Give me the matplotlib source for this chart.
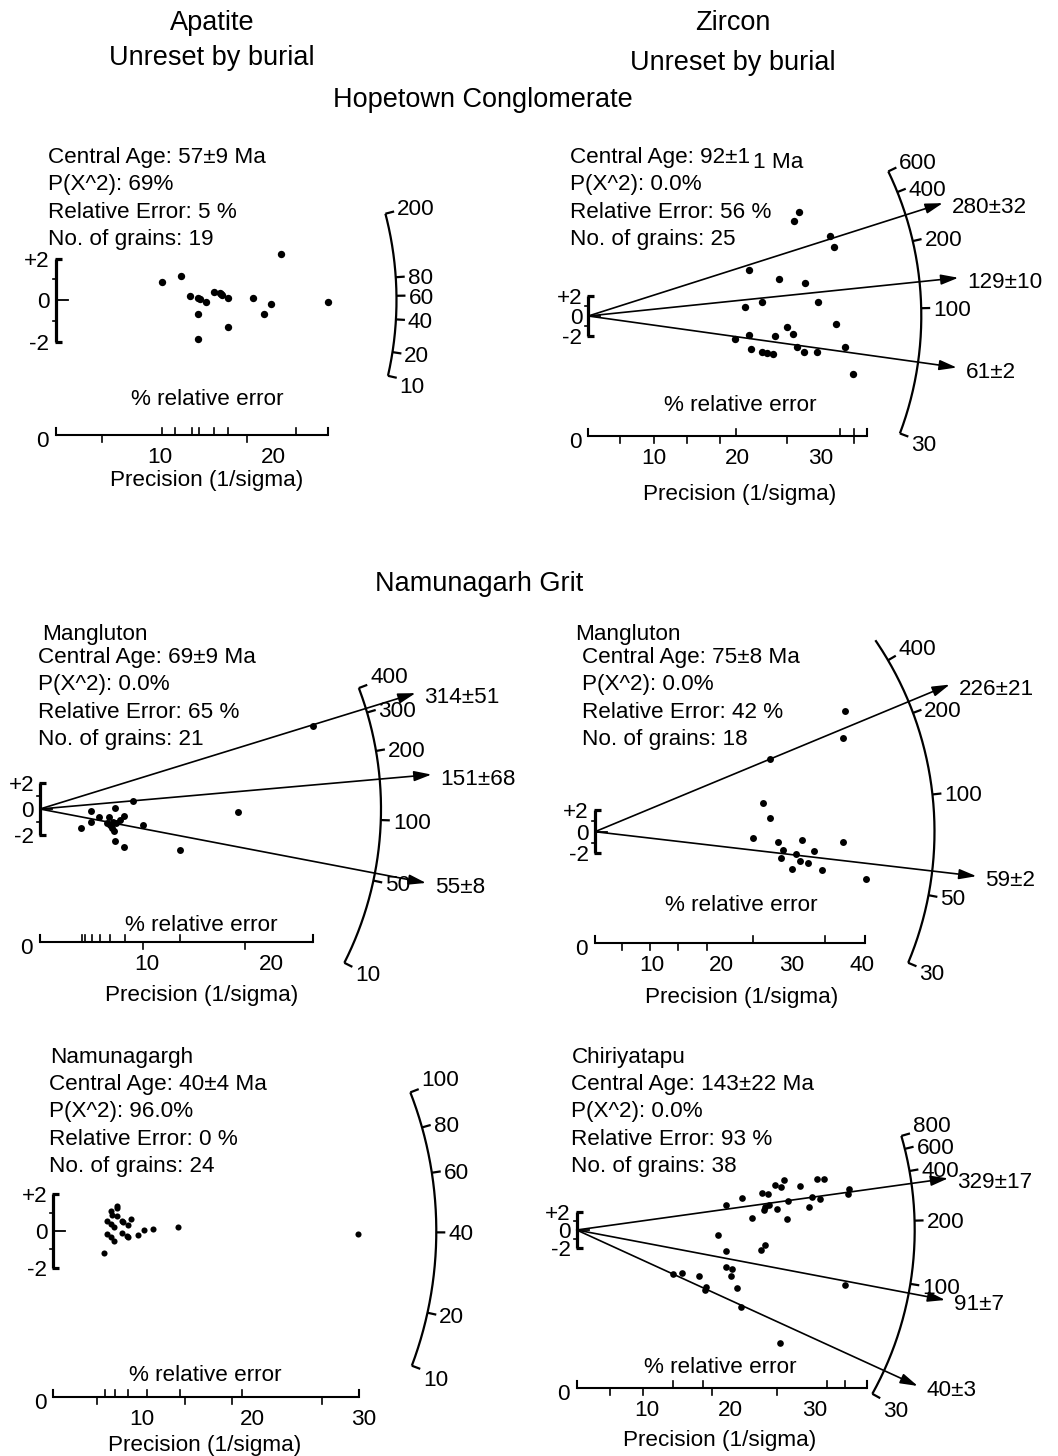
import numpy as np
import matplotlib
matplotlib.use('Agg')
import matplotlib.pyplot as plt

plt.rcParams['font.family'] = ['Liberation Sans', 'DejaVu Sans']

W, H = 1058, 1456
FS = 16.2
FS_HEAD = 19.5

# ======================= DATA =======================
# --- Hopetown Conglomerate, apatite ---
hop_ap_prec = [10.15, 11.86, 12.65, 13.39, 13.39, 13.39, 14.07, 14.81, 15.31, 15.51,
               16.04, 16.04, 18.26, 19.23, 19.80, 20.68, 24.84, 13.5, 15.4]
hop_ap_z = [0.88, 1.16, 0.21, 0.08, -0.69, -1.88, -0.11, 0.40, 0.32, 0.24,
            0.11, -1.32, 0.11, -0.66, -0.21, 2.20, -0.11, 0.05, 0.28]
hop_ap_scale = [10, 20, 40, 60, 80, 200]
hop_ap_line_age, hop_ap_line_err = [], []
hop_ap_prec_labels = [10, 20]
hop_ap_ticks_up = [10.15, 11.33, 12.86, 13.45, 14.81, 16.04, 22.0, 24.84]
hop_ap_ticks_down = [4.84, 17.67]
hop_ap_stats = ["Central Age: 57±9 Ma", "P(X^2): 69%", "Relative Error: 5 %", "No. of grains: 19"]

# --- Hopetown Conglomerate, zircon ---
hop_zr_prec = [27.39, 26.75, 31.07, 31.55, 21.39, 24.99, 28.07, 20.91, 22.88, 29.67,
               31.79, 25.88, 26.60, 21.32, 24.48, 19.68, 21.56, 22.88, 23.48, 24.20,
               27.08, 27.95, 29.55, 32.87, 33.80]
hop_zr_z = [10.23, 9.34, 7.84, 6.74, 4.51, 3.63, 3.20, 0.85, 1.40, 1.40,
            -0.81, -1.05, -1.80, -1.86, -1.96, -2.28, -3.27, -3.50, -3.60, -3.73,
            -3.01, -3.50, -3.50, -3.07, -5.69]
hop_zr_scale = [30, 100, 200, 400, 600]
hop_zr_line_age = [280, 129, 61]
hop_zr_line_err = [32, 10, 2]
hop_zr_prec_labels = [10, 20, 30]
hop_zr_ticks_up = [19.8, 32.3, 33.9]
hop_zr_ticks_down = [5.9, 9.9, 13.9, 17.9, 25.9, 33.9]
hop_zr_stats = ["Central Age: 92±1", "P(X^2): 0.0%", "Relative Error: 56 %", "No. of grains: 25"]
hop_zr_stats_tail = "1 Ma"

# --- Namunagarh Grit, Mangluton, apatite ---
man_ap_prec = [23.29, 17.32, 8.90, 7.43, 9.66, 8.18, 12.65, 8.18, 7.43, 4.68,
               5.49, 5.49, 6.15, 6.98, 6.77, 7.30, 7.51, 7.17, 7.38, 7.83, 7.03]
man_ap_z = [6.31, -0.25, 0.63, 0.10, -1.21, -0.51, -3.11, -2.86, -2.40, -1.46,
            -0.15, -0.96, -0.58, -0.58, -1.04, -0.96, -1.08, -1.46, -1.64, -0.83, -1.21]
man_ap_scale = [10, 50, 100, 200, 300, 400]
man_ap_line_age = [314, 151, 55]
man_ap_line_err = [51, 68, 8]
man_ap_prec_labels = [10, 20]
man_ap_ticks_up = [4.76, 5.03, 5.57, 6.23, 7.03, 8.23, 12.65, 23.34]
man_ap_ticks_down = [9.70, 17.86]
man_ap_stats = ["Central Age: 69±9 Ma", "P(X^2): 0.0%", "Relative Error: 65 %", "No. of grains: 21"]

# --- Namunagarh Grit, Mangluton, zircon ---
man_zr_prec = [37.59, 37.26, 26.89, 25.94, 26.89, 24.42, 28.07, 31.41, 37.26, 28.70,
               33.17, 30.60, 28.46, 31.17, 32.35, 29.99, 34.35, 40.58]
man_zr_z = [11.20, 8.65, 6.70, 2.63, 1.30, -0.61, -0.93, -0.77, -0.93, -1.69,
            -1.76, -2.09, -2.46, -2.71, -2.93, -3.48, -3.55, -4.41]
man_zr_scale = [30, 50, 100, 200, 400]
man_zr_line_age = [226, 59]
man_zr_line_err = [21, 2]
man_zr_prec_labels = [10, 20, 30, 40]
man_zr_ticks_up = [24.5, 34.7, 40.4]
man_zr_ticks_down = [5.73, 9.77, 13.8, 17.86]
man_zr_stats = ["Central Age: 75±8 Ma", "P(X^2): 0.0%", "Relative Error: 42 %", "No. of grains: 18"]

# --- Namunagarh Grit, Namunagargh, apatite ---
nam_ap_prec = [7.80, 7.23, 7.80, 6.90, 7.20, 7.50, 8.25, 9.03, 8.74, 6.90,
               7.20, 7.50, 8.25, 8.74, 9.64, 10.23, 11.05, 13.25, 6.62, 29.55,
               7.75, 8.30, 8.70, 7.30]
nam_ap_z = [1.38, 1.09, 0.82, 0.56, 0.38, 0.20, 0.55, 0.66, 0.33, -0.16,
            -0.34, -0.55, -0.09, -0.31, -0.22, 0.05, 0.11, 0.23, -1.22, -0.18,
            1.25, 0.50, -0.28, 0.90]
nam_ap_scale = [10, 20, 40, 60, 80, 100]
nam_ap_line_age, nam_ap_line_err = [], []
nam_ap_prec_labels = [10, 20, 30]
nam_ap_ticks_up = [6.69, 7.59, 8.79, 10.45, 13.45, 19.03, 29.64]
nam_ap_ticks_down = [5.94, 13.9, 18.12, 26.25]
nam_ap_stats = ["Central Age: 40±4 Ma", "P(X^2): 96.0%", "Relative Error: 0 %", "No. of grains: 24"]

# --- Namunagarh Grit, Chiriyatapu, zircon ---
chi_zr_prec = [19.45, 21.39, 23.69, 24.48, 25.27, 25.95, 26.38, 28.24, 30.30, 31.13,
               34.10, 33.98, 29.63, 30.62, 26.78, 24.60, 23.97, 24.09, 25.55, 29.35,
               22.58, 26.66, 18.54, 24.09, 23.61, 19.45, 19.45, 20.13, 20.01, 13.19,
               14.19, 16.25, 17.04, 16.96, 20.72, 21.24, 33.59, 25.87]
chi_zr_z = [2.75, 3.48, 4.10, 3.96, 4.95, 4.76, 5.49, 4.87, 5.60, 5.60,
            4.47, 3.96, 3.59, 3.37, 3.22, 2.75, 2.20, 2.49, 2.31, 2.56,
            1.29, 1.18, -0.55, -1.65, -2.20, -2.27, -4.03, -4.32, -5.05, -4.84,
            -4.69, -5.05, -6.23, -6.59, -6.41, -8.43, -6.08, -12.45]
chi_zr_scale = [30, 100, 200, 400, 600, 800]
chi_zr_line_age = [329, 91, 40]
chi_zr_line_err = [17, 7, 3]
chi_zr_prec_labels = [10, 20, 30]
chi_zr_ticks_up = [13.2, 16.76, 31.4, 33.6]
chi_zr_ticks_down = [5.68, 9.63, 17.75, 25.48]
chi_zr_stats = ["Central Age: 143±22 Ma", "P(X^2): 0.0%", "Relative Error: 93 %", "No. of grains: 38"]

headers = [("Apatite", 212, 20), ("Unreset by burial", 212, 55),
           ("Zircon", 733, 20), ("Unreset by burial", 733, 60),
           ("Hopetown Conglomerate", 483, 97), ("Namunagarh Grit", 479, 581)]

# ======================= LAYOUT (pixels) =======================
panels = [
    dict(prec=hop_ap_prec, z=hop_ap_z, scale=hop_ap_scale, lage=hop_ap_line_age, lerr=hop_ap_line_err,
         plab=hop_ap_prec_labels, tup=hop_ap_ticks_up, tdn=hop_ap_ticks_down, stats=hop_ap_stats, name=None,
         ox=55.5, oy=300, zero=47, sx=11.3, sy=20.75, axy=435, pend=24.84,
         R=341, c=0.0045, K=0.89, tc=56, ext=0, LR=380, ms=5.3, endsh=(4, 6),
         sxy=(48.3, 155), nxy=None, rel=(207, 397), pre=(207, 478.3)),
    dict(prec=hop_zr_prec, z=hop_zr_z, scale=hop_zr_scale, lage=hop_zr_line_age, lerr=hop_zr_line_err,
         plab=hop_zr_prec_labels, tup=hop_zr_ticks_up, tdn=hop_zr_ticks_down, stats=hop_zr_stats, name=None,
         ox=588.3, oy=316, zero=571, sx=8.335, sy=10.2, axy=436, pend=35.5,
         R=333, c=0.019, K=1.35, tc=93, ext=0, LR=372, ms=5.3, endsh=(5, 5),
         sxy=(570, 155), nxy=None, rel=(740, 403.3), pre=(740, 491.7)),
    dict(prec=man_ap_prec, z=man_ap_z, scale=man_ap_scale, lage=man_ap_line_age, lerr=man_ap_line_err,
         plab=man_ap_prec_labels, tup=man_ap_ticks_up, tdn=man_ap_ticks_down, stats=man_ap_stats, name="Mangluton",
         ox=40, oy=809, zero=22.3, sx=12.47, sy=13.2, axy=941.7, pend=23.34,
         R=341, c=0.0048, K=1.212, tc=112, ext=0, LR=393, ms=5.0, endsh=(9, 5),
         sxy=(38.3, 655), nxy=(41.7, 631.7), rel=(201.7, 923.3), pre=(201.7, 993.3)),
    dict(prec=man_zr_prec, z=man_zr_z, scale=man_zr_scale, lage=man_zr_line_age, lerr=man_zr_line_err,
         plab=man_zr_prec_labels, tup=man_zr_ticks_up, tdn=man_zr_ticks_down, stats=man_zr_stats, name="Mangluton",
         ox=595, oy=831.7, zero=581.5, sx=7.01, sy=10.8, axy=943.3, pend=40.4,
         R=339.5, c=0.023, K=1.795, tc=77, ext=4, LR=384, ms=5.0, endsh=(7, 5),
         sxy=(581.7, 655), nxy=(575, 631.7), rel=(741.7, 903.3), pre=(741.7, 995)),
    dict(prec=nam_ap_prec, z=nam_ap_z, scale=nam_ap_scale, lage=nam_ap_line_age, lerr=nam_ap_line_err,
         plab=nam_ap_prec_labels, tup=nam_ap_ticks_up, tdn=nam_ap_ticks_down, stats=nam_ap_stats, name="Namunagargh",
         ox=53.3, oy=1231, zero=30.9, sx=11.08, sy=18.3, axy=1396.7, pend=29.64,
         R=383, c=0.0025, K=2.49, tc=40.4, ext=0, LR=420, ms=4.4, endsh=(10, 8),
         sxy=(49.3, 1081.7), nxy=(50, 1055), rel=(205, 1373.3), pre=(205, 1443.3)),
    dict(prec=chi_zr_prec, z=chi_zr_z, scale=chi_zr_scale, lage=chi_zr_line_age, lerr=chi_zr_line_err,
         plab=chi_zr_prec_labels, tup=chi_zr_ticks_up, tdn=chi_zr_ticks_down, stats=chi_zr_stats, name="Chiriyatapu",
         ox=576.7, oy=1230, zero=562.2, sx=8.42, sy=9.1, axy=1388.3, pend=36.2,
         R=338, c=0.027, K=1.348, tc=179, ext=0, LR=375, ms=4.8, endsh=(9, 9),
         sxy=(571, 1081.7), nxy=(571.7, 1055), rel=(720, 1365), pre=(720, 1438.3)),
]

fig = plt.figure(figsize=(W / 100, H / 100), dpi=100)
fig.patch.set_facecolor('white')

PT2PX = 100 / 72.0


def capoff(size):
    return 0.358 * size * PT2PX


def ftext(x, y, s, ha='left', size=FS):
    """figure text; (x, y) pixel position of cap-height centre, y from top."""
    fig.text(x / W, 1 - (y + capoff(size)) / H, s, ha=ha, va='baseline', fontsize=size, color='k')


for txt, x, y in headers:
    ftext(x, y, txt, ha='center', size=FS_HEAD)


def draw_panel(P):
    ax = fig.add_axes([0, 0, 1, 1])
    ax.set_xlim((0 - P['zero']) / P['sx'], (W - P['zero']) / P['sx'])
    ax.set_ylim((P['oy'] - H) / P['sy'], P['oy'] / P['sy'])
    ax.axis('off')
    ax.patch.set_alpha(0)
    sx, sy = P['sx'], P['sy']
    xo = (P['ox'] - P['zero']) / sx
    co = capoff(FS)

    def D(dx, dy):
        return xo + np.asarray(dx) / sx, np.asarray(dy) / sy

    def u(t):
        return np.arctan(np.sqrt(P['c'] * np.asarray(t, float)))

    def phi(t):
        return np.arctan(P['K'] * (u(t) - u(P['tc'])))

    # ---- age arc ----
    R = P['R']
    tmin, tmax = min(P['scale']), max(P['scale'])
    a0 = phi(tmin)
    a1 = phi(tmax) + np.radians(P['ext'])
    th = np.linspace(a0, a1, 300)
    ax.plot(*D(R * np.cos(th), R * np.sin(th)), color='k', lw=1.6, solid_capstyle='butt')
    for t in P['scale']:
        a = phi(t)
        ax.plot(*D([R * np.cos(a), (R + 9) * np.cos(a)], [R * np.sin(a), (R + 9) * np.sin(a)]),
                color='k', lw=1.6, solid_capstyle='butt')
        shift = P['endsh'][0] if t == tmax else (-P['endsh'][1] if t == tmin else 0)
        lx, ly = D((R + 12) * np.cos(a), (R + 12) * np.sin(a) - co + shift)
        ax.text(lx, ly, str(t), ha='left', va='baseline', fontsize=FS)

    # ---- age lines with arrows ----
    LR = P['LR']
    for t, e in zip(P['lage'], P['lerr']):
        a = phi(t)
        tip = D(LR * np.cos(a), LR * np.sin(a))
        ax.annotate('', xy=(float(tip[0]), float(tip[1])), xytext=(xo, 0), xycoords='data',
                    arrowprops=dict(arrowstyle='-|>,head_length=0.75,head_width=0.22',
                                    lw=1.2, color='k', shrinkA=0, shrinkB=0, mutation_scale=14))
        lx, ly = D(LR * np.cos(a) + 9, LR * np.sin(a) - co - 2)
        ax.text(lx, ly, f"{t}±{e}", ha='left', va='baseline', fontsize=FS)

    # ---- data points ----
    ax.plot(P['prec'], P['z'], 'o', ms=P['ms'], color='k', mec='none', zorder=5)

    # ---- +/-2 bracket ----
    ax.plot([xo, xo], [-2, 2], color='k', lw=2.3, solid_capstyle='butt')
    for s in (-2, 2):
        ax.plot([xo - 1 / sx, xo + 6 / sx], [s, s], color='k', lw=2.3, solid_capstyle='butt')
    for s in (-1, 1):
        ax.plot([xo - 3 / sx, xo], [s, s], color='k', lw=1.2)
    ax.plot([xo, xo + 12 / sx], [0, 0], color='k', lw=1.3)
    for s, lab in ((2, '+2'), (0, '0'), (-2, '-2')):
        ax.text(xo - 6 / sx, s - co / sy, lab, ha='right', va='baseline', fontsize=FS)

    # ---- precision axis ----
    zax = (P['oy'] - P['axy']) / sy
    tl = 7 / sy
    ax.plot([xo, P['pend']], [zax, zax], color='k', lw=1.5, solid_capstyle='butt')
    ax.plot([xo, xo], [zax, zax + tl], color='k', lw=1.5)
    ax.plot([P['pend'], P['pend']], [zax, zax + tl], color='k', lw=1.5)
    for p in P['tup']:
        ax.plot([p, p], [zax, zax + tl], color='k', lw=1.2)
    for p in P['tdn']:
        ax.plot([p, p], [zax, zax - tl], color='k', lw=1.2)
    for p in P['plab']:
        ax.text(p, zax - (20 + co) / sy, str(p), ha='center', va='baseline', fontsize=FS)
    ax.text(xo - 7 / sx, zax - (4 + co) / sy, '0', ha='right', va='baseline', fontsize=FS)

    # ---- text block ----
    if P['nxy'] is not None:
        ftext(P['nxy'][0], P['nxy'][1], P['name'])
    x0, y0 = P['sxy']
    for i, s in enumerate(P['stats']):
        ftext(x0, y0 + i * 27.4, s)
    ftext(P['rel'][0], P['rel'][1], '% relative error', ha='center')
    ftext(P['pre'][0], P['pre'][1], 'Precision (1/sigma)', ha='center')


for P in panels:
    draw_panel(P)

# typographic quirk of the original: trailing "1 Ma" set lower
ftext(753, 160, hop_zr_stats_tail)

fig.savefig('out.png', dpi=100)
